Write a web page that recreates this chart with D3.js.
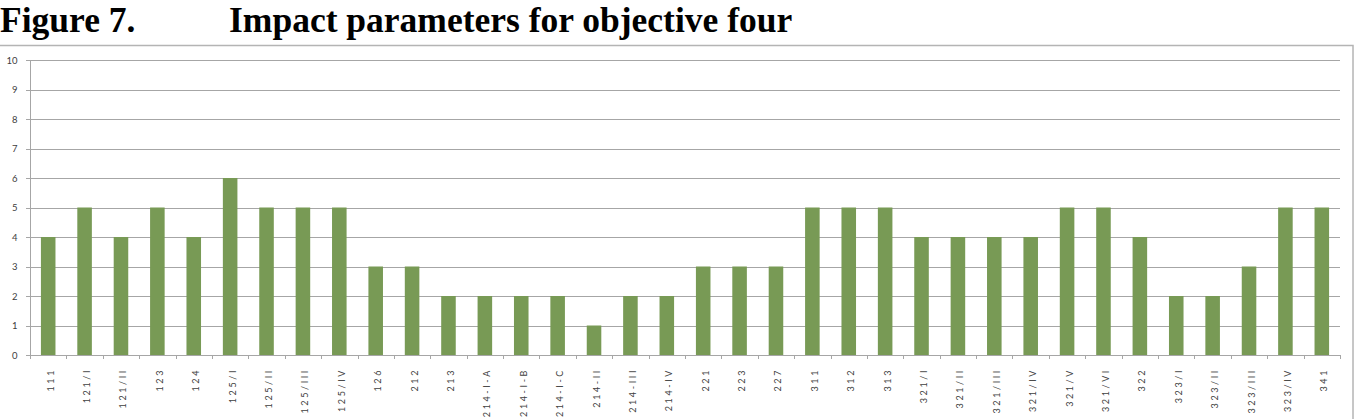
<!DOCTYPE html>
<html>
<head>
<meta charset="utf-8">
<script src="https://cdn.jsdelivr.net/npm/d3@7"></script>
<style>
  body { margin: 0; background: #fff; }
  svg { display: block; }
</style>
</head>
<body>
<div id="chart"></div>
<script>
// categories (measure codes) and their impact values
const categories = ["111", "121/I", "121/II", "123", "124", "125/I", "125/II", "125/III", "125/IV", "126",
  "212", "213", "214-I-A", "214-I-B", "214-I-C", "214-II", "214-III", "214-IV", "221", "223", "227",
  "311", "312", "313", "321/I", "321/II", "321/III", "321/IV", "321/V", "321/VI", "322",
  "323/I", "323/II", "323/III", "323/IV", "341"];
const values = [4, 5, 4, 5, 4, 6, 5, 5, 5, 3,
  3, 2, 2, 2, 2, 1, 2, 2, 3, 3, 3,
  5, 5, 5, 4, 4, 4, 4, 5, 5, 4,
  2, 2, 3, 5, 5];
const yTicks = [0, 1, 2, 3, 4, 5, 6, 7, 8, 9, 10];

const W = 1356, H = 419;
const svg = d3.select("#chart").append("svg").attr("width", W).attr("height", H);

// title
const title = svg.append("text")
  .attr("y", 32)
  .style("font-family", "'Liberation Serif', 'Times New Roman', serif")
  .style("font-weight", "bold")
  .style("font-size", "35.5px")
  .attr("fill", "#000");
title.append("tspan").attr("x", 0).text("Figure 7.");
title.append("tspan").attr("x", 229).text("Impact parameters for objective four");

// chart frame
svg.append("rect")
  .attr("x", -1).attr("y", 45.5)
  .attr("width", 1354).attr("height", 400)
  .attr("fill", "none").attr("stroke", "#b4b4b4").attr("stroke-width", 1.5);

const x0 = 30, x1 = 1340;
const x = d3.scaleBand().domain(categories).range([x0, x1]).paddingInner(0.6).paddingOuter(0.3);
const y = d3.scaleLinear().domain([0, 10]).range([355, 60]);

// grid lines
svg.append("g")
  .selectAll("line")
  .data(yTicks)
  .join("line")
  .attr("x1", x0 - 4).attr("x2", x1)
  .attr("y1", d => Math.round(y(d)) + 0.5).attr("y2", d => Math.round(y(d)) + 0.5)
  .attr("stroke", "#a6a6a6").attr("stroke-width", 1);

// y axis line
svg.append("line")
  .attr("x1", x0 + 0.5).attr("x2", x0 + 0.5)
  .attr("y1", y(10)).attr("y2", y(0))
  .attr("stroke", "#a6a6a6");

// y labels
svg.append("g")
  .selectAll("text")
  .data(yTicks)
  .join("text")
  .attr("x", 17.5).attr("y", d => y(d) + 3.5)
  .attr("text-anchor", "end")
  .style("font-family", "Lato, 'DejaVu Sans', sans-serif")
  .style("font-size", "9.5px")
  .attr("fill", "#404040")
  .text(d => d);

// bars
svg.append("g")
  .selectAll("rect")
  .data(values)
  .join("rect")
  .attr("x", (d, i) => x(categories[i]))
  .attr("y", d => y(d))
  .attr("width", x.bandwidth())
  .attr("height", d => y(0) - y(d))
  .attr("fill", "#789a55");

// x axis with tick marks between categories
const bounds = d3.range(categories.length + 1).map(i => x0 + i * x.step());
svg.append("line")
  .attr("x1", x0).attr("x2", x1)
  .attr("y1", Math.round(y(0)) + 0.5).attr("y2", Math.round(y(0)) + 0.5)
  .attr("stroke", "#a6a6a6");
svg.append("g")
  .selectAll("line")
  .data(bounds)
  .join("line")
  .attr("x1", d => Math.round(d) + 0.5).attr("x2", d => Math.round(d) + 0.5)
  .attr("y1", y(0)).attr("y2", y(0) + 4)
  .attr("stroke", "#a6a6a6");

// x labels, rotated
svg.append("g")
  .selectAll("text")
  .data(categories)
  .join("text")
  .attr("transform", d => `translate(${x(d) + x.bandwidth() / 2 + 5.5},368) rotate(-90)`)
  .attr("text-anchor", "end")
  .style("font-family", "Lato, 'DejaVu Sans', sans-serif")
  .style("font-size", "9px")
  .style("letter-spacing", "2.6px")
  .attr("fill", "#404040")
  .text(d => d);
</script>
</body>
</html>
